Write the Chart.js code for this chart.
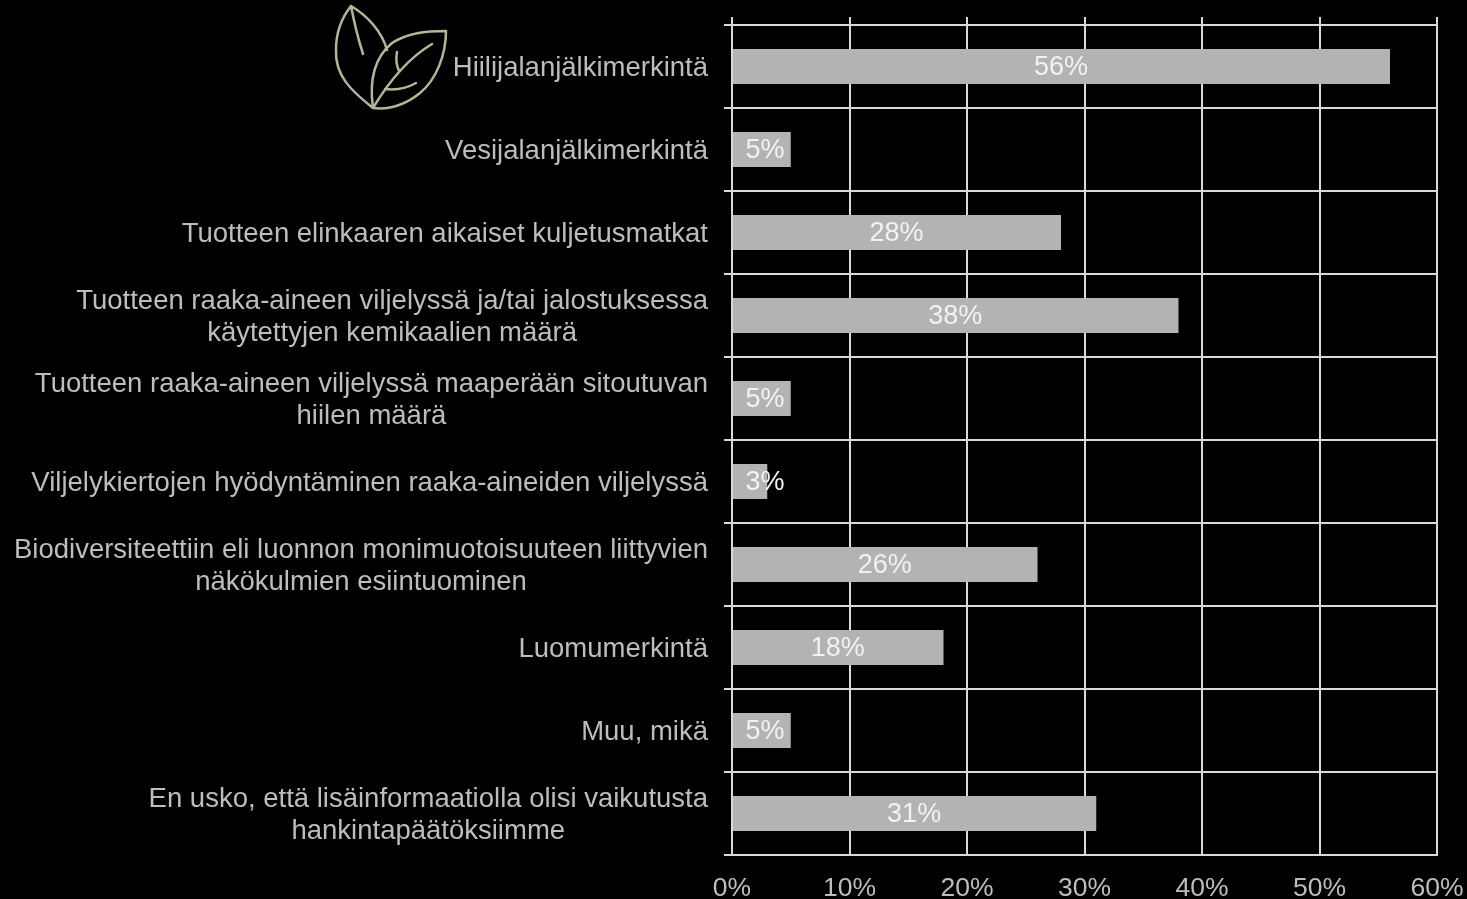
<!DOCTYPE html>
<html><head><meta charset="utf-8">
<style>html,body{margin:0;padding:0;background:#000;overflow:hidden}canvas{display:block}</style>
<script src="https://cdn.jsdelivr.net/npm/chart.js@4"></script>
</head><body><canvas id="c" width="1467" height="899"></canvas>
<script>
const categories = [
  ["Hiilijalanjälkimerkintä"],
  ["Vesijalanjälkimerkintä"],
  ["Tuotteen elinkaaren aikaiset kuljetusmatkat"],
  ["Tuotteen raaka-aineen viljelyssä ja/tai jalostuksessa","käytettyjen kemikaalien määrä"],
  ["Tuotteen raaka-aineen viljelyssä maaperään sitoutuvan","hiilen määrä"],
  ["Viljelykiertojen hyödyntäminen raaka-aineiden viljelyssä"],
  ["Biodiversiteettiin eli luonnon monimuotoisuuteen liittyvien","näkökulmien esiintuominen"],
  ["Luomumerkintä"],
  ["Muu, mikä"],
  ["En usko, että lisäinformaatiolla olisi vaikutusta","hankintapäätöksiimme"]
];
const values = [56,5,28,38,5,3,26,18,5,31];

const FONT = '"Liberation Sans", Arial, sans-serif';

const yLabels = {
  id:'yLabels',
  afterDraw(chart){
    const ctx = chart.ctx, s = chart.scales.y;
    ctx.save();
    ctx.font = '27.5px '+FONT;
    ctx.fillStyle = '#bdbdbd';
    ctx.textBaseline = 'middle';
    ctx.textAlign = 'center';
    categories.forEach((lines,i)=>{
      const w = Math.max(...lines.map(l=>ctx.measureText(l).width));
      const cx = 708 - w/2;
      const y = s.getPixelForTick(i)+1.5;
      lines.forEach((l,k)=>ctx.fillText(l,cx,y+(k-(lines.length-1)/2)*32));
    });
    ctx.restore();
  }
};
const barLabels = {
  id:'barLabels',
  afterDatasetsDraw(chart){
    const ctx = chart.ctx, x = chart.scales.x, y = chart.scales.y;
    ctx.save();
    ctx.font = '27px '+FONT;
    ctx.fillStyle = '#f2f2f2';
    ctx.textBaseline = 'middle';
    ctx.textAlign = 'center';
    values.forEach((v,i)=>{
      const cx = Math.max(x.getPixelForValue(v/2), x.getPixelForValue(0)+33);
      ctx.fillText(v+'%',cx,y.getPixelForTick(i)+1.5);
    });
    ctx.restore();
  }
};
const leaf = {
  id:'leaf',
  afterDraw(chart){
    const c = chart.ctx;
    c.save();
    c.strokeStyle = '#b0b896';
    c.lineWidth = 2.5;
    c.lineJoin = 'round';
    c.lineCap = 'round';
    c.beginPath();
    c.moveTo(373,108);
    c.bezierCurveTo(350,90,335,75,336,50);
    c.bezierCurveTo(336,30,343,16,351,6);
    c.bezierCurveTo(368,16,382,32,387,50);
    c.moveTo(351,6);
    c.quadraticCurveTo(356,32,363,54);
    c.moveTo(373,108);
    c.bezierCurveTo(369,80,374,58,392,43);
    c.bezierCurveTo(408,33,425,31,446,31);
    c.bezierCurveTo(446,55,436,80,420,93);
    c.bezierCurveTo(405,105,390,110,373,108);
    c.moveTo(373,108);
    c.bezierCurveTo(385,88,405,60,432,44);
    c.moveTo(397,52);
    c.quadraticCurveTo(395,62,399,71);
    c.moveTo(385,89);
    c.quadraticCurveTo(402,91,416,83);
    c.stroke();
    c.restore();
  }
};
const noPad = s => { s.paddingLeft = 0; s.paddingRight = 0; };

new Chart(document.getElementById('c'),{
  type:'bar',
  data:{labels:categories,datasets:[{data:values,backgroundColor:'#b3b3b3',borderWidth:0,categoryPercentage:1,barPercentage:0.42}]},
  plugins:[yLabels,barLabels,leaf],
  options:{
    indexAxis:'y',responsive:false,animation:false,devicePixelRatio:1,
    layout:{padding:{left:0,right:30,top:0,bottom:0}},
    plugins:{legend:{display:false},tooltip:{enabled:false},title:{display:false}},
    scales:{
      y:{
        afterFit(s){s.width=732;},
        grid:{color:'#d9d9d9',lineWidth:2,tickLength:8,drawTicks:true},
        border:{display:false},
        ticks:{display:false}
      },
      x:{
        position:'bottom',min:0,max:60,
        afterFit(s){s.height=44;noPad(s);},
        grid:{color:'#d9d9d9',lineWidth:2,tickLength:0},
        border:{color:'#d9d9d9',width:2},
        ticks:{stepSize:10,padding:18,maxRotation:0,color:'#bdbdbd',font:{family:FONT,size:26.5},callback:v=>v+'%'}
      },
      xTop:{
        position:'top',type:'linear',min:0,max:60,
        afterFit(s){s.height=25;noPad(s);},
        grid:{color:'#d9d9d9',lineWidth:2,tickLength:8},
        border:{color:'#d9d9d9',width:2},
        ticks:{stepSize:10,padding:0,color:'rgba(0,0,0,0)',font:{size:1},callback:()=>''}
      }
    }
  }
});
</script></body></html>
